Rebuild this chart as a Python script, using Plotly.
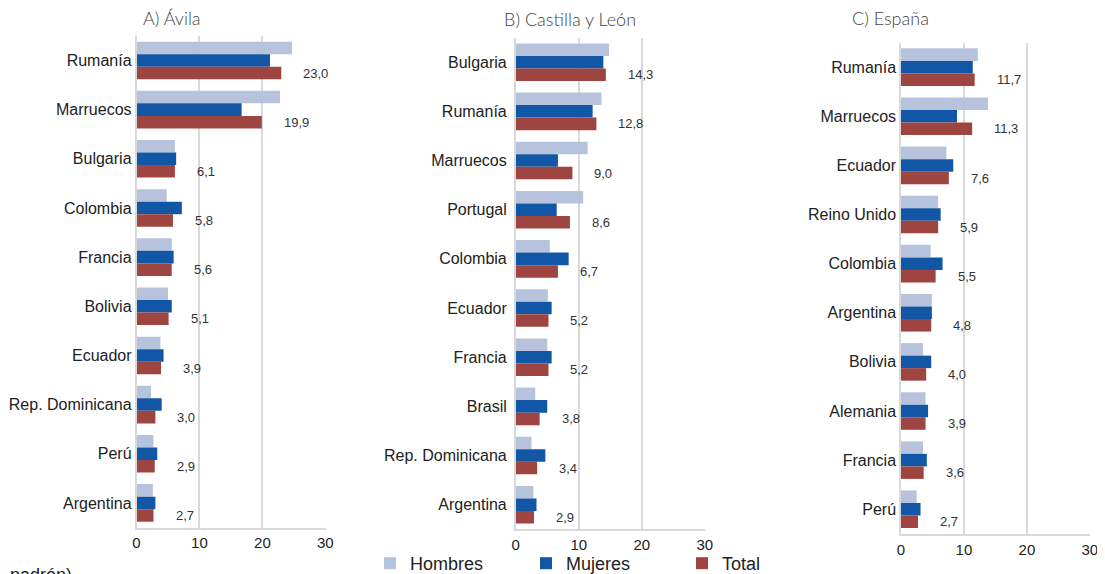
import plotly.graph_objects as go

# window is 1105x574; page body has an 8px margin, so the figure is drawn
# at (8, 8) -> make the figure fit the remaining area and convert positions.
WIN_W, WIN_H = 1105, 574
OFF = 8
W, H = WIN_W - OFF, WIN_H - OFF


def px_x(x):
    return (x - OFF) / W


def px_y(y):
    return 1 - (y - OFF) / H


# ---------------- data ----------------
series_names = ["Hombres", "Mujeres", "Total"]
series_colors = ["#b7c3dc", "#1157a5", "#9f4541"]

panel_titles = ["A) Ávila", "B) Castilla y León", "C) España"]

A_cats = ["Rumanía", "Marruecos", "Bulgaria", "Colombia", "Francia", "Bolivia",
          "Ecuador", "Rep. Dominicana", "Perú", "Argentina"]
A_hombres = [24.7, 22.8, 6.1, 4.8, 5.6, 5.0, 3.8, 2.3, 2.7, 2.6]
A_mujeres = [21.2, 16.7, 6.3, 7.2, 5.9, 5.6, 4.3, 4.0, 3.3, 3.0]
A_total = [23.0, 19.9, 6.1, 5.8, 5.6, 5.1, 3.9, 3.0, 2.9, 2.7]

B_cats = ["Bulgaria", "Rumanía", "Marruecos", "Portugal", "Colombia", "Ecuador",
          "Francia", "Brasil", "Rep. Dominicana", "Argentina"]
B_hombres = [14.8, 13.6, 11.4, 10.7, 5.4, 5.1, 5.0, 3.1, 2.5, 2.8]
B_mujeres = [13.9, 12.2, 6.7, 6.5, 8.4, 5.7, 5.7, 5.0, 4.7, 3.3]
B_total = [14.3, 12.8, 9.0, 8.6, 6.7, 5.2, 5.2, 3.8, 3.4, 2.9]

C_cats = ["Rumanía", "Marruecos", "Ecuador", "Reino Unido", "Colombia", "Argentina",
          "Bolivia", "Alemania", "Francia", "Perú"]
C_hombres = [12.2, 13.8, 7.2, 5.9, 4.7, 4.9, 3.5, 3.9, 3.5, 2.5]
C_mujeres = [11.4, 8.9, 8.3, 6.3, 6.6, 4.9, 4.8, 4.3, 4.1, 3.1]
C_total = [11.7, 11.3, 7.6, 5.9, 5.5, 4.8, 4.0, 3.9, 3.6, 2.7]

x_ticks = [0, 10, 20, 30]

panels = [
    (A_cats, [A_hombres, A_mujeres, A_total]),
    (B_cats, [B_hombres, B_mujeres, B_total]),
    (C_cats, [C_hombres, C_mujeres, C_total]),
]

# ---------------- layout geometry (window pixels) ----------------
x_px = [(136.5, 325.5), (515.7, 705.0), (901.0, 1090.0)]
y_px = [(35.9, 527.5), (37.6, 529.3), (42.6, 533.8)]
title_px = [(141, 18), (502, 19), (850, 18)]
label_standoff = [0, 4, 0]

fig = go.Figure()
layout_axes = {}
annotations = []

for i, (cats, vals) in enumerate(panels):
    sfx = "" if i == 0 else str(i + 1)
    xa, ya = "x" + sfx, "y" + sfx
    for s, (name, color) in enumerate(zip(series_names, series_colors)):
        fig.add_trace(go.Bar(
            y=cats, x=vals[s], orientation="h", name=name,
            marker=dict(color=color, line=dict(width=0)),
            xaxis=xa, yaxis=ya, showlegend=(i == 0),
            legendgroup=name,
        ))
    # value labels for Total
    for c, v in zip(cats, vals[2]):
        annotations.append(dict(
            x=v, y=c, xref=xa, yref=ya, text=f"{v:.1f}".replace(".", ","),
            showarrow=False, xanchor="left", yanchor="middle",
            xshift=20, yshift=-12.6,
            font=dict(family="Liberation Sans, Arial", size=13, color="#333333"),
        ))
    x0, x1 = x_px[i]
    y0, y1 = y_px[i]
    layout_axes["xaxis" + sfx] = dict(
        domain=[px_x(x0), px_x(x1)], anchor=ya, range=[0, 30.02],
        tickvals=x_ticks, ticktext=[str(t) for t in x_ticks],
        showgrid=True, gridcolor="#d9d9d9", gridwidth=1.5,
        zeroline=False, showline=True, linecolor="#d9d9d9", linewidth=1.5,
        ticks="", ticklabelstandoff=1,
        tickfont=dict(family="Liberation Sans, Arial", size=15, color="#222222"),
    )
    layout_axes["yaxis" + sfx] = dict(
        domain=[px_y(y1), px_y(y0)], anchor=xa, autorange="reversed",
        type="category", showgrid=False, zeroline=False,
        showline=True, linecolor="#d9d9d9", linewidth=1.5,
        ticks="", ticklabelstandoff=label_standoff[i],
        tickfont=dict(family="Liberation Sans, Arial", size=16, color="#222222"),
    )
    tx, ty = title_px[i]
    annotations.append(dict(
        x=px_x(tx), y=px_y(ty), xref="paper", yref="paper", text=panel_titles[i],
        showarrow=False, xanchor="left", yanchor="middle",
        font=dict(family="Lato, Liberation Sans", size=18, color="#444444", weight=300),
    ))

# cut-off source note at bottom-left
annotations.append(dict(
    x=0, y=px_y(563), xref="paper", yref="paper", text="padrón)",
    showarrow=False, xanchor="left", yanchor="top",
    font=dict(family="Liberation Sans, Arial", size=18, color="#222222"),
))

fig.update_layout(
    width=W, height=H,
    margin=dict(l=0, r=0, t=0, b=0, autoexpand=False),
    paper_bgcolor="white", plot_bgcolor="white",
    barmode="group", bargap=0.235, bargroupgap=0,
    showlegend=True,
    legend=dict(
        orientation="h", x=px_x(370), y=px_y(563.5), xanchor="left", yanchor="middle",
        font=dict(family="Liberation Sans, Arial", size=18, color="#222222"),
        entrywidth=111, entrywidthmode="pixels",
        bgcolor="rgba(0,0,0,0)",
    ),
    annotations=annotations,
    **layout_axes,
)

fig.write_html("out.html")
